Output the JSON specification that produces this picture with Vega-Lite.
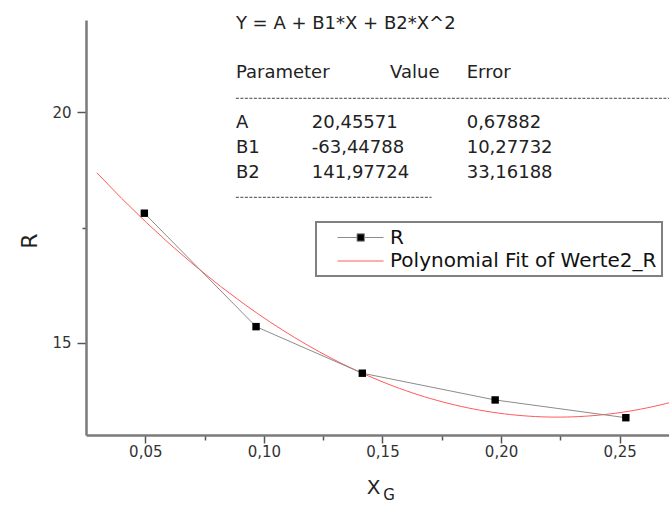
{
  "$schema": "https://vega.github.io/schema/vega-lite/v6.json",
  "width": 583,
  "height": 415,
  "autosize": {"type": "none"},
  "padding": {"left": 86, "top": 20, "right": 0, "bottom": 72},
  "background": "white",
  "config": {
    "font": "DejaVu Sans",
    "view": {"stroke": null},
    "axis": {"grid": false, "labelFont": "DejaVu Sans", "titleFont": "DejaVu Sans"}
  },
  "datasets": {
    "measurements": [
      {"XG": 0.0496, "R": 17.81, "series": "R", "fit": "Polynomial Fit of Werte2_R"},
      {"XG": 0.0967, "R": 15.35, "series": "R", "fit": "Polynomial Fit of Werte2_R"},
      {"XG": 0.1415, "R": 14.34, "series": "R", "fit": "Polynomial Fit of Werte2_R"},
      {"XG": 0.1975, "R": 13.76, "series": "R", "fit": "Polynomial Fit of Werte2_R"},
      {"XG": 0.2526, "R": 13.375, "series": "R", "fit": "Polynomial Fit of Werte2_R"}
    ],
    "fitinfo": [
      {
        "equation": "Y = A + B1*X + B2*X^2",
        "h1": "Parameter",
        "h2": "Value",
        "h3": "Error",
        "params": ["A", "B1", "B2"],
        "values": ["20,45571", "-63,44788", "141,97724"],
        "errors": ["0,67882", "10,27732", "33,16188"],
        "sub": "G"
      }
    ]
  },
  "layer": [
    {
      "data": {"name": "measurements"},
      "transform": [
        {"regression": "R", "on": "XG", "method": "poly", "order": 2, "extent": [0.0296, 0.29], "groupby": ["fit"]}
      ],
      "mark": {"type": "line", "strokeWidth": 1, "clip": true},
      "encoding": {
        "x": {
          "field": "XG", "type": "quantitative",
          "scale": {"domain": [0.025, 0.2708], "nice": false, "zero": false},
          "axis": {
            "title": "X",
            "values": [0.05, 0.075, 0.1, 0.125, 0.15, 0.175, 0.2, 0.225, 0.25],
            "labelExpr": "round(datum.value*1000) % 50 === 0 ? replace(format(datum.value, '.2f'), '.', ',') : ''",
            "tickSize": {"condition": {"test": "round(datum.value*1000) % 50 !== 0", "value": 5}, "value": 8},
            "tickColor": "#555", "tickWidth": 1.5,
            "domainColor": "#7a7a7a", "domainWidth": 2.5,
            "labelFontSize": 15, "labelColor": "#333", "labelPadding": 1,
            "labelFlush": false, "labelOverlap": false,
            "titleFontSize": 20, "titleFontWeight": "normal", "titleColor": "#222",
            "titleX": 287, "titleY": 52, "titleBaseline": "middle", "titleAlign": "center"
          }
        },
        "y": {
          "field": "R", "type": "quantitative",
          "scale": {"domain": [13, 22], "nice": false, "zero": false},
          "axis": {
            "title": "R",
            "values": [15, 17.5, 20],
            "labelExpr": "datum.value % 5 === 0 ? format(datum.value, 'd') : ''",
            "tickSize": {"condition": {"test": "datum.value % 5 !== 0", "value": 4}, "value": 9},
            "tickColor": "#555", "tickWidth": 1.5,
            "domainColor": "#7a7a7a", "domainWidth": 2.5,
            "labelFontSize": 15, "labelColor": "#333", "labelPadding": 6,
            "labelOverlap": false,
            "titleFontSize": 22, "titleFontWeight": "normal", "titleColor": "#222",
            "titleAngle": 270, "titleX": -57, "titleY": 220.5, "titleBaseline": "middle", "titleAlign": "center"
          }
        },
        "color": {
          "field": "fit", "type": "nominal",
          "scale": {"domain": ["R", "Polynomial Fit of Werte2_R"], "range": ["#8c8c8c", "#ff5a5a"]},
          "legend": {
            "title": null,
            "orient": "none", "legendX": 230, "legendY": 202,
            "padding": 5, "rowPadding": 2.5,
            "symbolSize": 400, "symbolStrokeWidth": 1,
            "labelOffset": 48, "labelFontSize": 20, "labelFont": "DejaVu Sans", "labelColor": "#111", "labelLimit": 500,
            "strokeColor": "#808080", "fillColor": "white",
            "encode": {
              "symbols": {
                "update": {
                  "shape": {"signal": "datum.value === 'R' ? 'M0.6,0H2.55M3.29,0H5.2M2.55,-0.37H3.29V0.37H2.55Z' : 'M0.6,0H5.2'"},
                  "fill": {"signal": "datum.value === 'R' ? 'black' : 'transparent'"},
                  "stroke": {"signal": "datum.value === 'R' ? '#8c8c8c' : '#ff5a5a'"},
                  "strokeWidth": {"value": 1}
                }
              },
              "legend": {
                "update": {"strokeWidth": {"value": 2}}
              }
            }
          }
        }
      }
    },
    {
      "data": {"name": "measurements"},
      "mark": {"type": "line", "strokeWidth": 1},
      "encoding": {
        "x": {"field": "XG", "type": "quantitative"},
        "y": {"field": "R", "type": "quantitative"},
        "color": {"field": "series", "type": "nominal"}
      }
    },
    {
      "data": {"name": "measurements"},
      "mark": {"type": "square", "filled": true, "color": "black", "size": 55, "opacity": 1},
      "encoding": {
        "x": {"field": "XG", "type": "quantitative"},
        "y": {"field": "R", "type": "quantitative"}
      }
    },
    {
      "data": {"name": "fitinfo"},
      "mark": {"type": "text", "fontSize": 18, "align": "left", "baseline": "middle", "color": "#222"},
      "encoding": {"x": {"datum": 0.0882}, "y": {"datum": 21.907}, "text": {"field": "equation"}}
    },
    {
      "data": {"name": "fitinfo"},
      "mark": {"type": "text", "fontSize": 18, "align": "left", "baseline": "middle", "color": "#222"},
      "encoding": {"x": {"datum": 0.0882}, "y": {"datum": 20.859}, "text": {"field": "h1"}}
    },
    {
      "data": {"name": "fitinfo"},
      "mark": {"type": "text", "fontSize": 18, "align": "left", "baseline": "middle", "color": "#222"},
      "encoding": {"x": {"datum": 0.1532}, "y": {"datum": 20.859}, "text": {"field": "h2"}}
    },
    {
      "data": {"name": "fitinfo"},
      "mark": {"type": "text", "fontSize": 18, "align": "left", "baseline": "middle", "color": "#222"},
      "encoding": {"x": {"datum": 0.1855}, "y": {"datum": 20.859}, "text": {"field": "h3"}}
    },
    {
      "data": {"name": "fitinfo"},
      "mark": {"type": "text", "fontSize": 18, "align": "left", "baseline": "top", "lineHeight": 24.7, "color": "#222"},
      "encoding": {"x": {"datum": 0.0882}, "y": {"datum": 19.955}, "text": {"field": "params"}}
    },
    {
      "data": {"name": "fitinfo"},
      "mark": {"type": "text", "fontSize": 18, "align": "left", "baseline": "top", "lineHeight": 24.7, "color": "#222"},
      "encoding": {"x": {"datum": 0.1202}, "y": {"datum": 19.955}, "text": {"field": "values"}}
    },
    {
      "data": {"name": "fitinfo"},
      "mark": {"type": "text", "fontSize": 18, "align": "left", "baseline": "top", "lineHeight": 24.7, "color": "#222"},
      "encoding": {"x": {"datum": 0.1855}, "y": {"datum": 19.955}, "text": {"field": "errors"}}
    },
    {
      "data": {"name": "fitinfo"},
      "mark": {"type": "rule", "color": "#444", "strokeWidth": 1, "strokeDash": [3, 1.5]},
      "encoding": {"x": {"datum": 0.0882}, "x2": {"datum": 0.2708}, "y": {"datum": 20.302}}
    },
    {
      "data": {"name": "fitinfo"},
      "mark": {"type": "rule", "color": "#444", "strokeWidth": 1, "strokeDash": [3, 1.5]},
      "encoding": {"x": {"datum": 0.0882}, "x2": {"datum": 0.1707}, "y": {"datum": 18.155}}
    },
    {
      "data": {"name": "fitinfo"},
      "mark": {"type": "text", "fontSize": 15, "align": "center", "baseline": "middle", "color": "#222"},
      "encoding": {"x": {"datum": 0.15277}, "y": {"datum": 11.7}, "text": {"field": "sub"}}
    }
  ]
}
